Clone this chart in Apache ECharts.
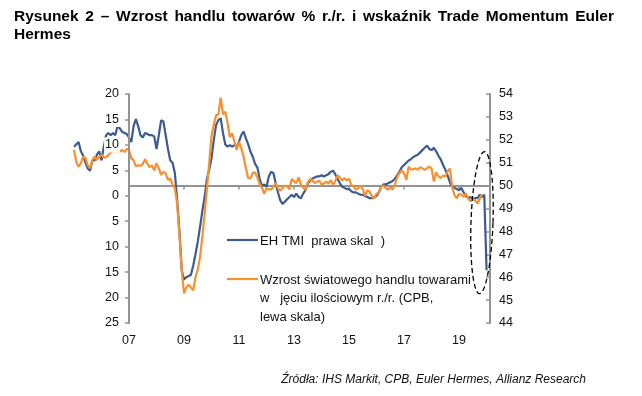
<!DOCTYPE html>
<html>
<head>
<meta charset="utf-8">
<script src="https://cdn.jsdelivr.net/npm/echarts@6/dist/echarts.min.js"></script>
<style>html,body{margin:0;padding:0;background:#fff}#c{width:642px;height:396px}</style>
</head>
<body>
<div id="c"></div>
<script>
// ---- data (monthly, first month = Jan 2005) ----
const startYear = 2005;
// EH Trade Momentum Index (right scale)
const tmi = [
  51.7, 51.8, 51.9, 51.5, 51.3, 51.0, 50.75, 50.65, 51.1, 51.1, 51.35, 51.5,
  51.1, 51.7, 52.2, 52.3, 52.2, 52.3, 52.2, 52.6, 52.5, 52.35, 52.3, 52.25,
  52.1, 51.9, 52.6, 52.9, 52.6, 52.2, 52.1, 52.3, 52.25, 52.2, 52.2, 52.15,
  51.6, 52.2, 52.85, 52.8, 52.2, 51.6, 51.1, 51.0, 50.55, 49.4, 48.0, 46.3,
  45.9, 46.0, 46.05, 46.1, 46.5, 47.0, 47.55, 48.2, 48.9, 49.5, 50.3, 50.7,
  51.2, 52.0, 52.65, 52.86, 52.94, 52.3, 51.8, 51.7, 51.77, 51.7, 51.77, 51.7,
  51.92, 52.21, 52.36, 52.06, 51.8, 51.48, 51.26, 50.95, 50.8, 50.3, 49.98, 50.05,
  49.95, 50.4, 50.6, 50.55, 50.1, 49.7, 49.35, 49.2, 49.3, 49.4, 49.5, 49.6,
  49.5, 49.65, 49.5, 49.45, 49.65, 49.8, 50.1, 50.2, 50.3, 50.35, 50.4, 50.4,
  50.45, 50.4, 50.45, 50.5, 50.6, 50.65, 50.5, 50.3, 50.1, 49.95, 49.9, 49.85,
  49.85, 49.75, 49.7, 49.7, 49.65, 49.6, 49.6, 49.55, 49.5, 49.45, 49.45, 49.5,
  49.55, 49.7, 49.95, 50.05, 50.05, 50.1, 50.15, 50.2, 50.3, 50.45, 50.6, 50.8,
  50.9, 51.0, 51.1, 51.15, 51.25, 51.3, 51.35, 51.45, 51.55, 51.65, 51.75, 51.6,
  51.55, 51.65, 51.5, 51.3, 51.15, 50.9, 50.7, 50.45, 50.15, 49.95, 49.9, 49.85,
  49.8, 49.9, 49.7, 49.55, 49.45, 49.5, 49.4, 49.45, 49.45, 49.6, 49.5, 49.6,
  46.3
];
// World merchandise trade volume growth, % y/y (left scale)
const trade = [
  9.0, 6.7, 5.7, 6.4, 7.7, 7.4, 6.0, 5.4, 7.0, 7.7, 7.0, 7.7,
  8.0, 7.5, 7.6, 8.0, 8.5, 9.0, 8.7, 9.3, 8.7, 9.0, 8.6, 9.2,
  9.0, 7.4, 7.0, 5.8, 6.0, 5.9, 6.2, 7.2, 6.3, 5.6, 6.0, 5.0,
  6.4, 5.4, 4.1, 4.7, 4.4, 3.1, 3.4, 2.2, 1.5, -1.5, -7.7, -14.5,
  -19.2, -18.0, -17.5, -18.0, -18.6, -16.0, -14.5, -12.0, -8.0, -3.5, 1.5, 6.5,
  11.8, 14.0, 15.8, 16.0, 19.3, 16.0, 16.5, 14.3, 11.5, 12.3, 10.6, 9.0,
  10.6, 9.3, 7.7, 5.4, 3.5, 3.4, 4.5, 4.6, 3.6, 2.3, 1.6, 0.4,
  1.5, 1.3, 1.2, 1.8, 2.5, 1.5, 1.0, 1.6, 2.0, 1.8, 1.3, 3.3,
  2.8, 2.5, 3.6, 2.2, 1.6, 1.2, 2.6, 3.3, 3.0, 2.5, 2.7, 3.0,
  2.2, 2.4, 2.8, 2.4, 3.1, 2.1, 2.9, 4.0, 3.6, 3.0, 3.5, 3.0,
  3.3, 2.1, 1.8, 1.2, 1.5, 2.0, 1.3, 0.0, 1.1, 0.8, -0.2, -0.5,
  0.4, 0.6, 1.8, 2.0, 1.5, 1.2, 1.7, 1.2, 2.2, 3.7, 4.4, 5.0,
  4.4, 3.1, 5.7, 5.2, 5.2, 5.4, 5.1, 5.6, 5.4, 5.1, 5.4, 5.7,
  5.4, 2.8, 4.6, 3.8, 3.5, 4.0, 3.8, 4.8, 5.4, 1.8, 0.1, -0.5,
  0.4, 0.2, -0.2, 0.5, -0.6, -1.1, -0.6, -0.9, -1.5, -0.6, 0.3
];
const leftScale = [-25, 20, 5];     // min, max, step
const rightScale = [44, 54, 1];     // min, max, step
const xScale = [0, 181.5, 24];      // months since Jan 2005, label every 2 years
const firstLabelMonth = 24;         // first labelled tick: Jan 2007 (where the left axis stands)
const refLevel = 50;                // TMI level where the horizontal axis sits

const titleLine1 = 'Rysunek 2 – Wzrost handlu towarów % r./r. i wskaźnik Trade Momentum Euler';
const titleLine2 = 'Hermes';
const legendTmi = ['EH TMI  prawa skal  )'];
const legendTrade = ['Wzrost światowego handlu towarami', 'w   jęciu ilościowym r./r. (CPB,', 'lewa skala)'];
const sourceText = 'Źródła: IHS Markit, CPB, Euler Hermes, Allianz Research';

// ---- style ----
const FONT = '"Liberation Sans", Arial, sans-serif';
const BLUE = '#3d5b93';
const ORANGE = '#f7912f';
const AXIS = '#939393';
const TXT = '#111111';

const chart = echarts.init(document.getElementById('c'), null, {renderer: 'canvas'});

const gridLeft = 74, gridRight = 490, gridTop = 94, gridBottomPx = 323;
const monthsPx = (gridRight - gridLeft) / (xScale[1] - xScale[0]);
const leftAxisOffset = -(firstLabelMonth - xScale[0]) * monthsPx;

// justified title line 1
const cv = document.createElement('canvas').getContext('2d');
const TSIZE = 15.5;
cv.font = 'bold ' + TSIZE + 'px ' + FONT;
const words = titleLine1.split(' ');
const wW = words.map(w => cv.measureText(w).width);
const totalW = 600;
const gap = (totalW - wW.reduce((a, b) => a + b, 0)) / (words.length - 1);
const graphics = [];
let cx = 14;
const tstyle = (t) => ({text: t, fontSize: TSIZE, fontWeight: 'bold', fontFamily: FONT, fill: '#000',
  align: 'left', textAlign: 'left', verticalAlign: 'middle', textVerticalAlign: 'middle'});
words.forEach((w, i) => {
  graphics.push({type: 'text', x: cx, y: 17, silent: true, style: tstyle(w)});
  cx += wW[i] + gap;
});
graphics.push({type: 'text', x: 14, y: 35, silent: true, style: tstyle(titleLine2)});

// legend (custom layout, as in the source)
const lstyle = (t) => ({text: t, fontSize: 13, fontFamily: FONT, fill: TXT, align: 'left', textAlign: 'left',
  verticalAlign: 'middle', textVerticalAlign: 'middle'});
graphics.push({type: 'line', shape: {x1: 227, y1: 240, x2: 258, y2: 240}, style: {stroke: BLUE, lineWidth: 2.2}});
legendTmi.forEach((t, i) => graphics.push({type: 'text', x: 260, y: 241 + i * 19, style: lstyle(t)}));
graphics.push({type: 'line', shape: {x1: 227, y1: 279, x2: 258, y2: 279}, style: {stroke: ORANGE, lineWidth: 2.2}});
legendTrade.forEach((t, i) => graphics.push({type: 'text', x: 260, y: 280 + i * 18.5, style: lstyle(t)}));

// source
graphics.push({type: 'text', x: 586, y: 380,
  style: {text: sourceText, fontSize: 12, fontStyle: 'italic', fontFamily: FONT, fill: TXT,
    align: 'right', textAlign: 'right', verticalAlign: 'middle', textVerticalAlign: 'middle'}});

const labelStyle = {fontSize: 12.5, color: TXT, fontFamily: FONT};

// horizontal axis at TMI = 50 from the left axis to the right axis, with tick marks every 2 years
const tickDrop = 4 * (rightScale[1] - rightScale[0]) / (gridBottomPx - gridTop);
const refLines = [[{coord: [firstLabelMonth, refLevel]}, {coord: [xScale[1], refLevel]}]];
for (let m = firstLabelMonth + xScale[2]; m < xScale[1]; m += xScale[2]) {
  refLines.push([{coord: [m, refLevel]}, {coord: [m, refLevel - tickDrop], lineStyle: {width: 1.5}}]);
}

const option = {
  animation: false,
  backgroundColor: '#fff',
  grid: {left: gridLeft, right: 642 - gridRight, top: gridTop, bottom: 396 - gridBottomPx, containLabel: false},
  xAxis: {type: 'value', min: xScale[0], max: xScale[1], interval: xScale[2], position: 'bottom',
    axisLine: {show: false}, axisTick: {show: false}, splitLine: {show: false},
    axisLabel: Object.assign({margin: 11, showMaxLabel: false,
      formatter: v => v < firstLabelMonth ? '' : String((startYear + v / 12) % 100).padStart(2, '0')}, labelStyle)},
  yAxis: [
    {type: 'value', min: leftScale[0], max: leftScale[1], interval: leftScale[2], position: 'left',
      offset: leftAxisOffset, z: 5,
      axisLine: {show: true, lineStyle: {color: AXIS, width: 2}},
      axisTick: {show: true, length: 4, lineStyle: {color: AXIS, width: 1.5}},
      splitLine: {show: false},
      axisLabel: Object.assign({margin: 9, backgroundColor: '#fff', padding: [1, 1],
        formatter: v => String(Math.abs(v))}, labelStyle)},
    {type: 'value', min: rightScale[0], max: rightScale[1], interval: rightScale[2], position: 'right',
      axisLine: {show: true, lineStyle: {color: AXIS, width: 2}},
      axisTick: {show: true, inside: true, length: 4, lineStyle: {color: AXIS, width: 1.5}},
      splitLine: {show: false},
      axisLabel: Object.assign({margin: 9}, labelStyle)}
  ],
  series: [
    {name: 'EH TMI (prawa skala)', type: 'line', xAxisIndex: 0, yAxisIndex: 1,
      data: tmi.map((v, i) => [i, v]), symbol: 'none', z: 3,
      lineStyle: {color: BLUE, width: 2.2},
      markLine: {silent: true, symbol: ['none', 'none'], label: {show: false}, z: 1,
        lineStyle: {color: AXIS, width: 2, type: 'solid'}, data: refLines}},
    {name: 'Wzrost światowego handlu towarami (lewa skala)', type: 'line', xAxisIndex: 0, yAxisIndex: 0,
      data: trade.map((v, i) => [i, v]), symbol: 'none', z: 4,
      lineStyle: {color: ORANGE, width: 2.2}}
  ],
  graphic: graphics
};
chart.setOption(option);

// dashed ellipse around the latest observations
const c = chart.convertToPixel({xAxisIndex: 0, yAxisIndex: 1}, [178, 48.38]);
const rx = 11, ry = 71, rot = 0.035;
const pts = [];
for (let k = 0; k < 120; k++) {
  const t = k / 120 * Math.PI * 2;
  const ex = rx * Math.cos(t), ey = ry * Math.sin(t);
  pts.push([c[0] + ex * Math.cos(rot) - ey * Math.sin(rot), c[1] + ex * Math.sin(rot) + ey * Math.cos(rot)]);
}
graphics.push({type: 'polygon', shape: {points: pts}, z: 10,
  style: {fill: 'none', stroke: '#000', lineWidth: 1.3, lineDash: [5, 3]}});
chart.setOption({graphic: graphics});
</script>
</body>
</html>
